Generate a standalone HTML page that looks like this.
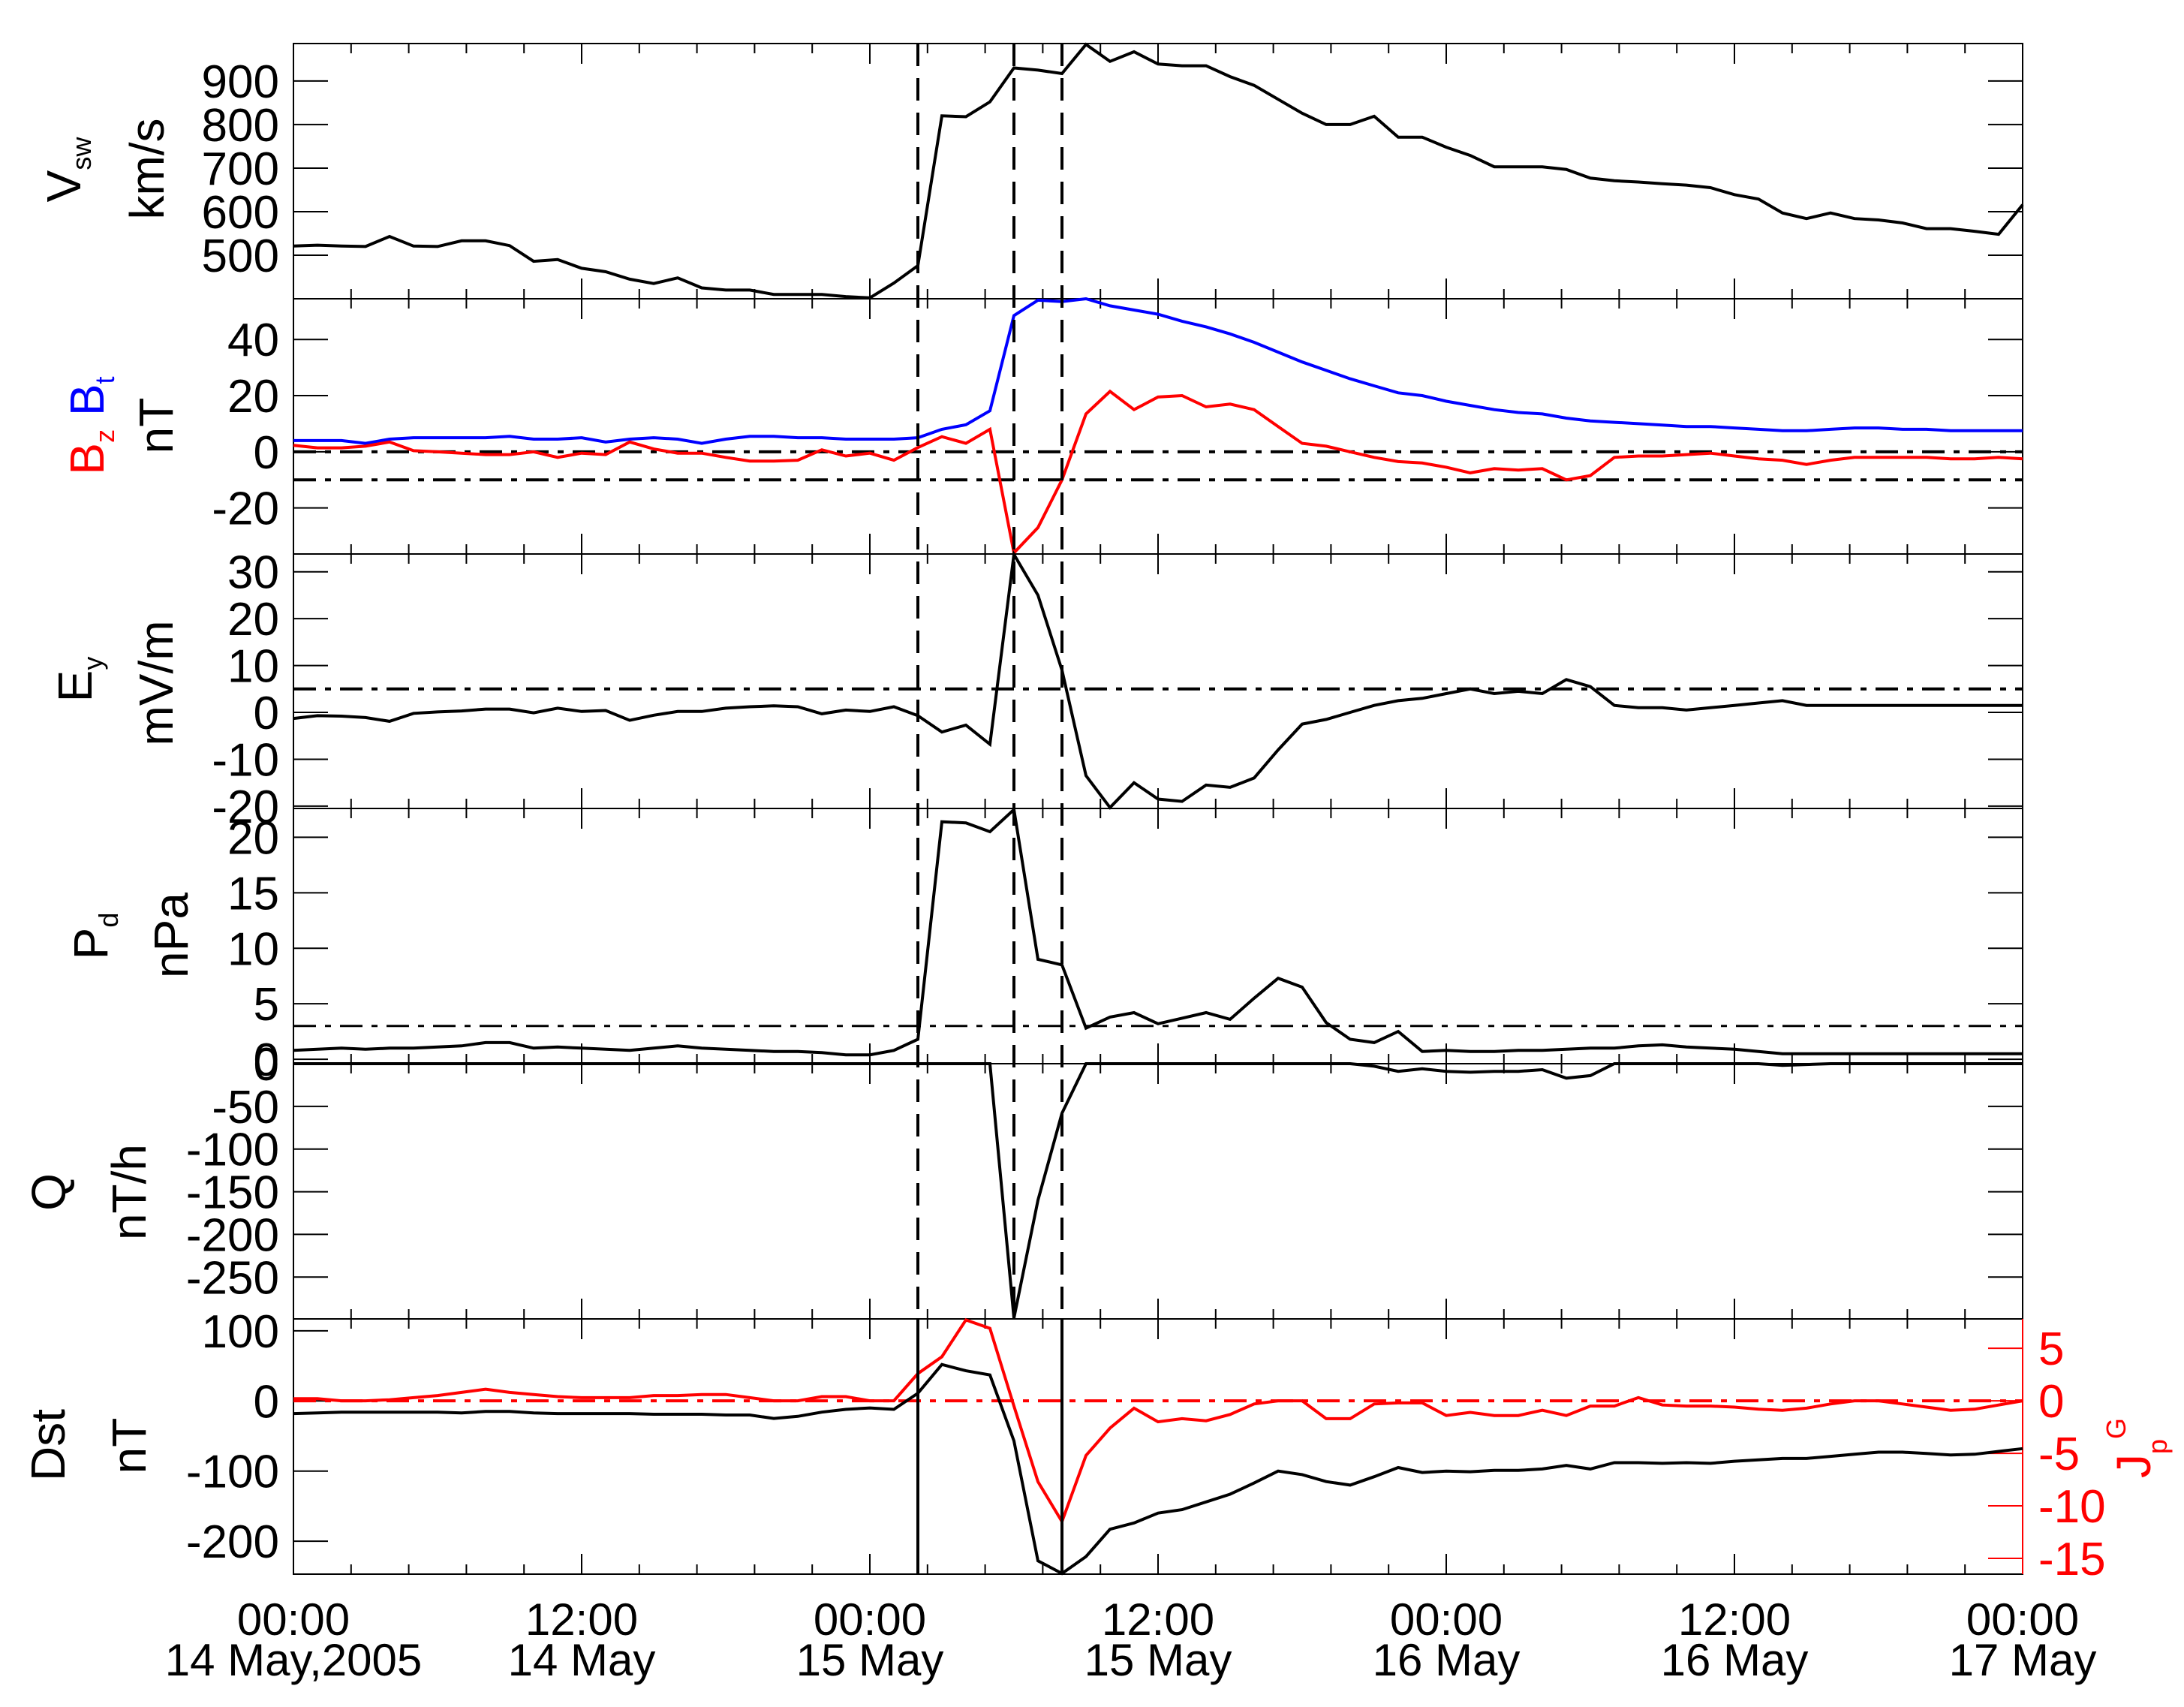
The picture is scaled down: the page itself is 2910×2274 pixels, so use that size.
<!DOCTYPE html>
<html><head><meta charset="utf-8">
<style>
html,body{margin:0;padding:0;background:#fff;}
svg{display:block;font-family:"Liberation Sans",Arial,sans-serif;}
</style></head>
<body>
<svg id="chart" xmlns="http://www.w3.org/2000/svg" width="2910" height="2274" viewBox="0 0 2910 2274">
<rect x="0" y="0" width="2910" height="2274" fill="#fff"/>
</svg>
<script>
// ---- data (hourly, 00:00 14 May 2005 .. 00:00 17 May 2005) ----
const hours = Array.from({length:73},(_,i)=>i);
const vsw = [521,523,521,520,543,521,520,533,533,522,486,490,470,462,445,435,448,425,420,420,410,410,410,405,402,436,476,820,818,852,930,925,917,984,945,967,939,935,935,910,890,858,826,800,800,819,771,771,748,729,703,703,703,697,677,671,668,664,661,655,639,629,597,584,597,584,581,574,561,561,555,548,616];
const bt = [4,4,4,3,4.5,5,5,5,5,5.5,4.5,4.5,5,3.5,4.5,5,4.5,3,4.5,5.5,5.5,5,5,4.5,4.5,4.5,5,8,9.6,14.6,48.5,54,53.5,54.5,52,50.5,49,46.5,44.5,42,39,35.5,32,29,26,23.5,21,20,18,16.5,15,14,13.5,12,11,10.5,10,9.5,9,9,8.5,8,7.5,7.5,8,8.5,8.5,8,8,7.5,7.5,7.5,7.5];
const bz = [2.3,1.4,1.4,2,3.5,0.4,0,-0.5,-1,-1,0,-2,-0.5,-1,3.5,1,-0.5,-0.5,-2,-3.3,-3.3,-3,0.7,-1.5,-0.5,-3,1.5,5.4,3,8,-36,-27,-10,13.5,21.5,15,19.5,20,16,17,15,9,3,2,0,-2,-3.5,-4,-5.5,-7.5,-6,-6.5,-6,-10,-8.5,-2,-1.5,-1.5,-1,-0.5,-1.5,-2.5,-3,-4.5,-3,-2,-2,-2,-2,-2.5,-2.5,-2,-2.5];
const ey = [-1.3,-0.7,-0.8,-1.1,-1.9,-0.2,0.1,0.3,0.7,0.7,-0.1,0.9,0.2,0.4,-1.7,-0.6,0.2,0.2,0.9,1.2,1.4,1.2,-0.3,0.5,0.2,1.2,-0.7,-4.2,-2.7,-6.8,33.7,25,9,-13.5,-20.3,-15,-18.5,-19,-15.5,-16,-14,-8,-2.5,-1.5,0,1.5,2.5,3,4,5,4,4.5,4,7,5.5,1.5,1,1,0.5,1,1.5,2,2.5,1.5,1.5,1.5,1.5,1.5,1.5,1.5,1.5,1.5,1.5];
const pd = [0.8,0.9,1,0.9,1,1,1.1,1.2,1.5,1.5,1,1.1,1,0.9,0.8,1,1.2,1,0.9,0.8,0.7,0.7,0.6,0.4,0.4,0.8,1.8,21.4,21.3,20.5,22.5,9,8.5,2.8,3.8,4.2,3.2,3.7,4.2,3.6,5.5,7.3,6.5,3.3,1.8,1.5,2.5,0.7,0.8,0.7,0.7,0.8,0.8,0.9,1,1,1.2,1.3,1.1,1,0.9,0.7,0.5,0.5,0.5,0.5,0.5,0.5,0.5,0.5,0.5,0.5,0.5];
const q = [0,0,0,0,0,0,0,0,0,0,0,0,0,0,0,0,0,0,0,0,0,0,0,0,0,0,0,0,0,0,-298,-160,-58,0,0,0,0,0,0,0,0,0,0,0,0,-3,-9,-6,-9,-10,-9,-9,-7,-17,-14,0,0,0,0,0,0,0,-2,-1,0,0,0,0,0,0,0,0,0];
const dst = [-18,-17,-16,-16,-16,-16,-16,-17,-15,-15,-17,-18,-18,-18,-18,-19,-19,-19,-20,-20,-25,-22,-16,-12,-10,-12,11,52,43,37,-57,-228,-246,-222,-183,-174,-160,-155,-144,-133,-117,-100,-105,-115,-120,-108,-95,-102,-100,-101,-99,-99,-97,-92,-97,-88,-88,-89,-88,-89,-86,-84,-82,-82,-79,-76,-73,-73,-75,-77,-76,-72,-68];
const jp = [0.2,0.2,0,0,0.1,0.3,0.5,0.8,1.1,0.8,0.6,0.4,0.3,0.3,0.3,0.5,0.5,0.6,0.6,0.3,0,0,0.4,0.4,0,0,2.6,4.2,7.7,6.9,-0.5,-7.7,-11.5,-5.2,-2.6,-0.7,-2.0,-1.7,-1.9,-1.3,-0.3,0,0,-1.7,-1.7,-0.3,-0.2,-0.2,-1.4,-1.1,-1.4,-1.4,-0.9,-1.4,-0.5,-0.5,0.3,-0.4,-0.5,-0.5,-0.6,-0.8,-0.9,-0.7,-0.3,0,0,-0.3,-0.6,-0.9,-0.8,-0.4,0];
const eventHours = [26, 30, 32];
const xTickHours = [0,12,24,36,48,60,72];
const xTickTimes = ["00:00","12:00","00:00","12:00","00:00","12:00","00:00"];
const xTickDates = ["14 May,2005","14 May","15 May","15 May","16 May","16 May","17 May"];
const vTicks=[500,600,700,800,900], bTicks=[-20,0,20,40], eTicks=[-20,-10,0,10,20,30], pTicks=[0,5,10,15,20], qTicks=[0,-50,-100,-150,-200,-250], dTicks=[-200,-100,0,100], jTicks=[-15,-10,-5,0,5];

// ---- layout ----
const NS="http://www.w3.org/2000/svg";
const svg=document.getElementById('chart');
const L=391,R=2695,TH=72;
const tops=[58,398,738,1077,1417,1757,2097];
const ranges=[[986,400],[54.5,-36.4],[33.8,-20.5],[22.6,-0.4],[0,-299],[117,-247]];
const jRange=[7.8,-16.5];
function xs(h){return L+(R-L)*h/TH;}
function ys(p,v){const[a,b]=ranges[p];return tops[p]+(tops[p+1]-tops[p])*(a-v)/(a-b);}
function yj(v){return tops[5]+(tops[6]-tops[5])*(jRange[0]-v)/(jRange[0]-jRange[1]);}
function mk(tag,attrs,parent){const e=document.createElementNS(NS,tag);for(const k in attrs)e.setAttribute(k,attrs[k]);(parent||svg).appendChild(e);return e;}
function line(x1,y1,x2,y2,st,w,dash,name){const e=mk('line',{x1,y1,x2,y2,stroke:st,'stroke-width':w});if(dash)e.setAttribute('stroke-dasharray',dash);


return e;}
function series(arr,yf,color,name){const pts=arr.map((v,i)=>xs(hours[i]).toFixed(1)+','+yf(v).toFixed(1)).join(' ');
const e=mk('polyline',{points:pts,fill:'none',stroke:color,'stroke-width':4,'stroke-linejoin':'miter'});


return e;}
function txt(x,y,s,opts){const e=mk('text',Object.assign({x,y,'font-size':62,fill:'#000'},opts||{}));e.textContent=s;return e;}

// panels frames & ticks
const panelNames=['vsw-panel','b-panel','ey-panel','pd-panel','q-panel','dst-panel'];
const yTickSets=[vTicks,bTicks,eTicks,pTicks,qTicks,dTicks];
for(let p=0;p<6;p++){
  const g=mk('g',{});
  
  
  const r=mk('rect',{x:L,y:tops[p],width:R-L,height:tops[p+1]-tops[p],fill:'none',stroke:'#000','stroke-width':2},g);
  
  
  for(let k=0;k<=30;k++){const h=k*2.4;const x=xs(h);const major=(k%5===0);const len=major?27:13;
    line(x,tops[p],x,tops[p]+len,'#000',2,null,'x-tick');
    line(x,tops[p+1],x,tops[p+1]-len,'#000',2,null,'x-tick');}
  yTickSets[p].forEach(v=>{const y=ys(p,v);
    line(L,y,L+46,y,'#000',2,null,'y-tick');
    if(p<5) line(R,y,R-46,y,'#000',2,null,'y-tick');
    const t=txt(372,y+22,String(v),{'text-anchor':'end'});
    
    
  });
}
// right red Jp axis
line(R,tops[5],R,tops[6],'#f00',2,null,'jp-axis-line');
jTicks.forEach(v=>{const y=yj(v);line(R,y,R-46,y,'#f00',2,null,'jp-tick');
  const t=txt(2716,y+22,String(v),{fill:'#f00'});
  
  });

// reference lines
const DD='30,12,8,12';
line(L,ys(1,0),R,ys(1,0),'#000',4,DD,'bz-zero-line');
line(L,ys(1,-10),R,ys(1,-10),'#000',4,DD,'bz-threshold-line');
line(L,ys(2,5),R,ys(2,5),'#000',4,DD,'ey-threshold-line');
line(L,ys(3,3),R,ys(3,3),'#000',3,DD,'pd-threshold-line');
line(L,yj(0),R,yj(0),'#f00',4,DD,'jp-zero-line');

// series
series(vsw,v=>ys(0,v),'#000','vsw-line');
series(bt,v=>ys(1,v),'#00f','bt-line');
series(bz,v=>ys(1,v),'#f00','bz-line');
series(ey,v=>ys(2,v),'#000','ey-line');
series(pd,v=>ys(3,v),'#000','pd-line');
series(q,v=>ys(4,v),'#000','q-line');
series(dst,v=>ys(5,v),'#000','dst-line');
series(jp,yj,'#f00','jp-line');

// event lines
eventHours.forEach((h,i)=>{const x=xs(h);
  line(x,tops[0],x,tops[5],'#000',4,'30,16','event-dashed-line');
  if(i!==1) line(x,tops[5],x,tops[6],'#000',4,null,'event-solid-line');});

// x labels
xTickHours.forEach((h,i)=>{const x=xs(h);
  const a=txt(x,2178,xTickTimes[i],{'text-anchor':'middle','font-size':60});
  
  
  const b=txt(x,2232,xTickDates[i],{'text-anchor':'middle','font-size':60});
  
  });

// y titles (rotated)
function vtitle(x,yc,parts,name,anchor){const g=mk('g',{transform:`translate(${x},${yc}) rotate(-90)`});
  
  
  const t=mk('text',{x:0,y:0,'text-anchor':anchor||'middle','font-size':64},g);
  parts.forEach(pt=>{const s=mk('tspan',{fill:pt.c||'#000'},t);if(pt.dy)s.setAttribute('dy',pt.dy);if(pt.fs)s.setAttribute('font-size',pt.fs);s.textContent=pt.t;});
  return g;}
vtitle(107,226,[{t:'V'},{t:'sw',dy:14,fs:36}],'vsw-title');
vtitle(218,225,[{t:'km/s'}],'vsw-unit');
vtitle(138,567,[{t:'B',c:'#f00'},{t:'z',c:'#f00',dy:14,fs:36},{t:'  B',c:'#00f',dy:-14},{t:'t',c:'#00f',dy:14,fs:36}],'b-title');
vtitle(230,567,[{t:'nT'}],'b-unit');
vtitle(122,905,[{t:'E'},{t:'y',dy:14,fs:36}],'ey-title');
vtitle(230,910,[{t:'mV/m'}],'ey-unit');
vtitle(143,1247,[{t:'P'},{t:'d',dy:14,fs:36}],'pd-title');
vtitle(250,1246,[{t:'nPa'}],'pd-unit');
vtitle(87,1588,[{t:'Q'}],'q-title');
vtitle(194,1588,[{t:'nT/h'}],'q-unit');
vtitle(86,1925,[{t:'Dst'}],'dst-title');
vtitle(194,1926,[{t:'nT'}],'dst-unit');
vtitle(2865,1969,[{t:'J',c:'#f00'},{t:'p',c:'#f00',dy:22,fs:36},{t:'G',c:'#f00',dy:-55,fs:36}],'jp-title','start');
</script>
</body></html>
